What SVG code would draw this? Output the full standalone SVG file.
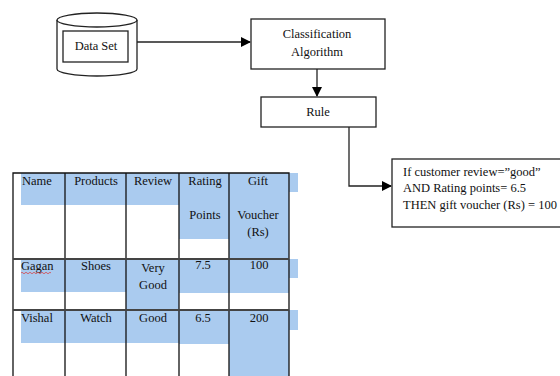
<svg xmlns="http://www.w3.org/2000/svg" width="560" height="376" viewBox="0 0 560 376" font-family="'Liberation Serif', 'Times New Roman', serif">
<defs>
<marker id="ah" markerWidth="10" markerHeight="10" refX="9" refY="5" orient="auto" markerUnits="userSpaceOnUse">
<path d="M0,0 L10,5 L0,10 Z" fill="#000"/>
</marker>
<style>
text{font-family:'Liberation Serif','Times New Roman',serif;font-size:12.5px;fill:#111}
.box{fill:#fff;stroke:#222;stroke-width:1.3}
.hl{fill:#aacbef}
.grid{stroke:#111;stroke-width:1.3;fill:none}
.hrow{stroke:#444;stroke-width:2;fill:none}
.c{text-anchor:middle}
.conn{stroke:#222;stroke-width:1.3;fill:none}
</style>
</defs>
<rect width="560" height="376" fill="#fff"/>

<g id="connectors">
<path class="conn" d="M137,42 H250" marker-end="url(#ah)"/>
<path class="conn" d="M317,69 V96" marker-end="url(#ah)"/>
<path class="conn" d="M349,127 V186 H391" marker-end="url(#ah)"/>
</g>

<g id="dataset">
<path class="box" d="M57,20 V69 A40,7 0 0 0 137,69 V20"/>
<ellipse class="box" cx="97" cy="20" rx="40" ry="7"/>
<rect class="box" x="63" y="31" width="65" height="31"/>
<text class="c" x="96" y="50">Data Set</text>
</g>

<g id="classification">
<rect class="box" x="251" y="19" width="134" height="50"/>
<text class="c" x="317" y="38">Classification</text>
<text class="c" x="317" y="56">Algorithm</text>
</g>

<g id="rule">
<rect class="box" x="261" y="97" width="115" height="30"/>
<text class="c" x="318" y="116">Rule</text>
</g>

<g id="ruletext">
<rect class="box" x="392" y="159" width="175" height="68"/>
<text x="403" y="176">If customer review=”good”</text>
<text x="403" y="192">AND Rating points= 6.5</text>
<text x="403" y="209">THEN gift voucher (Rs) = 100</text>
</g>

<g id="table">
<rect class="hl" x="21" y="173" width="158" height="32"/>
<rect class="hl" x="179" y="173" width="50" height="66"/>
<rect class="hl" x="229" y="173" width="60" height="85"/>
<rect class="hl" x="289" y="173" width="9" height="19"/>
<rect class="hl" x="21" y="259" width="105" height="33"/>
<rect class="hl" x="126" y="259" width="53" height="51"/>
<rect class="hl" x="179" y="259" width="110" height="34"/>
<rect class="hl" x="289" y="259" width="9" height="19"/>
<rect class="hl" x="21" y="310" width="158" height="33"/>
<rect class="hl" x="179" y="310" width="50" height="34"/>
<rect class="hl" x="229" y="310" width="60" height="66"/>
<rect class="hl" x="289" y="310" width="9" height="20"/>
<path class="grid" d="M13,376 V173 H289 V376 M65,173 V376 M126,173 V376 M179,173 V376 M229,173 V376"/>
<path class="hrow" d="M13,259 H289 M13,310 H289"/>
<text x="22" y="185">Name</text>
<text class="c" x="96" y="185">Products</text>
<text class="c" x="153" y="185">Review</text>
<text class="c" x="205" y="185">Rating</text>
<text class="c" x="205" y="219">Points</text>
<text class="c" x="258" y="185">Gift</text>
<text class="c" x="258" y="219">Voucher</text>
<text class="c" x="258" y="236">(Rs)</text>
<text x="21" y="270">Gagan</text>
<path d="M21,273 q1,-1.5 2,0 t2,0 t2,0 t2,0 t2,0 t2,0 t2,0 t2,0 t2,0 t2,0 t2,0 t2,0 t2,0 t2,0 t2,0" stroke="#d33" stroke-width="0.7" fill="none"/>
<text class="c" x="96" y="270">Shoes</text>
<text class="c" x="153" y="272">Very</text>
<text class="c" x="153" y="289">Good</text>
<text class="c" x="203" y="269">7.5</text>
<text class="c" x="259" y="269">100</text>
<text x="21" y="322">Vishal</text>
<text class="c" x="96" y="322">Watch</text>
<text class="c" x="153" y="322">Good</text>
<text class="c" x="203" y="322">6.5</text>
<text class="c" x="259" y="322">200</text>
</g>
</svg>
